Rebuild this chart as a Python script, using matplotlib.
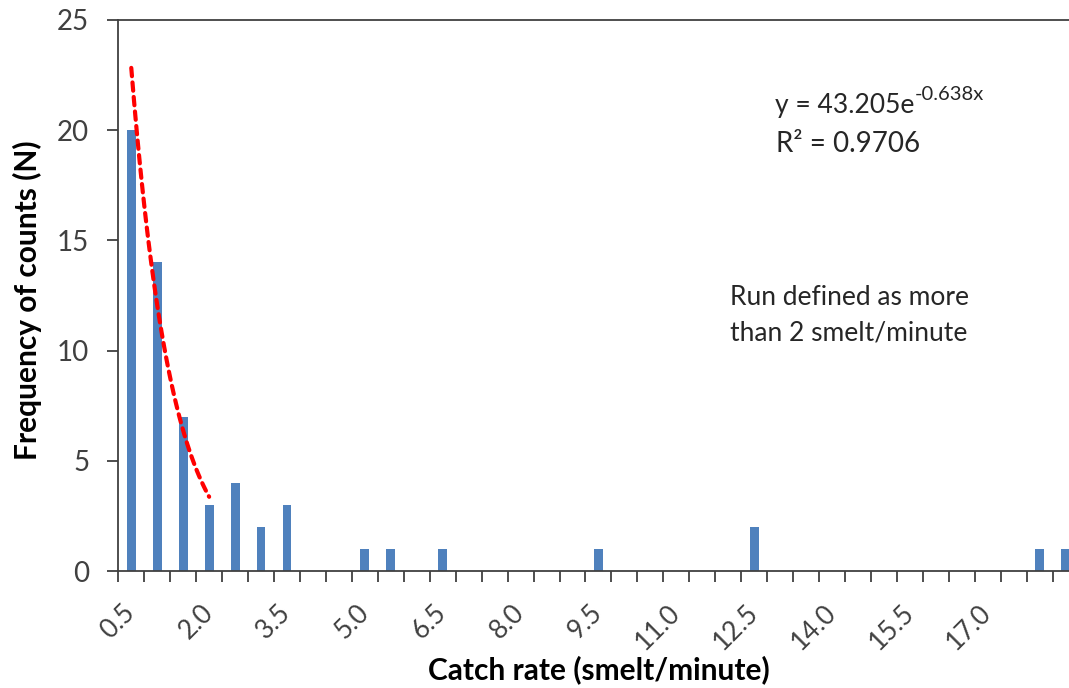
import numpy as np
import matplotlib
matplotlib.use("Agg")
import matplotlib.pyplot as plt

# catch-rate bins (smelt/minute) and number of counts in each bin
rates = [0.5, 1.0, 1.5, 2.0, 2.5, 3.0, 3.5, 4.0, 4.5, 5.0, 5.5, 6.0, 6.5,
         7.0, 7.5, 8.0, 8.5, 9.0, 9.5, 10.0, 10.5, 11.0, 11.5, 12.0, 12.5,
         13.0, 13.5, 14.0, 14.5, 15.0, 15.5, 16.0, 16.5, 17.0, 17.5, 18.0, 18.5]
counts = [20, 14, 7, 3, 4, 2, 3, 0, 0, 1, 1, 0, 1,
          0, 0, 0, 0, 0, 1, 0, 0, 0, 0, 0, 2,
          0, 0, 0, 0, 0, 0, 0, 0, 0, 0, 1, 1]

# exponential trendline over the first four bins (x = bin number 1..4)
fit_a, fit_b = 43.205, -0.638
fit_r2 = 0.9706
fit_bins = 4

plt.rcParams['font.family'] = ['Lato', 'DejaVu Sans']

W, H = 1069, 688
fig = plt.figure(figsize=(W / 100, H / 100), dpi=100)
ax = fig.add_axes([118.3 / W, 117 / H, (W - 118.3) / W, 551 / H])

pos = np.arange(len(rates))
ax.bar(pos, counts, width=0.34, color='#4F81BD', zorder=2)

xf = np.linspace(1, fit_bins, 60)
ax.plot(xf - 1, fit_a * np.exp(fit_b * xf), color='#FF0000', lw=3,
        linestyle=(0, (2.0, 1.5)), dash_capstyle='round', zorder=3)

ax.spines['right'].set_visible(False)
for s in ['left', 'bottom', 'top']:
    ax.spines[s].set_color('#404040')
    ax.spines[s].set_linewidth(1.3)

ax.set_yticks(range(0, 26, 5))
ax.tick_params(axis='y', length=8, width=1.3, color='#404040',
               labelsize=20, labelcolor='#404040', pad=13)

# tick marks sit between bins, every third bin gets a label
ax.set_xticks(np.arange(-0.5, len(rates), 1.0))
ax.set_xticklabels([])
lab_pos = pos[:34:3]
ax.set_xticks(lab_pos, minor=True)
ax.set_xticklabels(['%.1f' % rates[i] for i in lab_pos], minor=True,
                   rotation=45, ha='right', va='center',
                   rotation_mode='anchor')
ax.tick_params(axis='x', which='major', length=8, width=1.3, color='#404040')
ax.tick_params(axis='x', which='minor', length=0, labelsize=19,
               labelcolor='#404040', pad=27)

# set limits last: set_xticks widens the view to fit every tick
ax.set_xlim(-0.5, 36.13)
ax.set_ylim(0, 25)

ax.set_xlabel('Catch rate (smelt/minute)', fontsize=21.5, fontweight='bold',
              va='baseline')
ax.xaxis.set_label_coords(0.5056, -0.196)
ax.set_ylabel('Frequency of counts (N)', fontsize=21.5, fontweight='bold',
              va='center')
ax.yaxis.set_label_coords(-0.096, 0.492)

eq = fig.text(775 / W, 1 - 113 / H, 'y = %.3fe' % fit_a,
              fontsize=19, color='#262626', va='baseline')
ax.annotate('%.3fx' % fit_b, xy=(1.0, 0.6), xycoords=eq,
            fontsize=14.5, color='#262626', va='bottom', ha='left')
fig.text(776 / W, 1 - 152 / H, 'R² = %.4f' % fit_r2,
         fontsize=20, color='#262626', va='baseline')
fig.text(730 / W, 1 - 305 / H, 'Run defined as more',
         fontsize=19, color='#262626', va='baseline')
fig.text(730 / W, 1 - 340 / H, 'than 2 smelt/minute',
         fontsize=19, color='#262626', va='baseline')

fig.savefig('out.png', dpi=100)
